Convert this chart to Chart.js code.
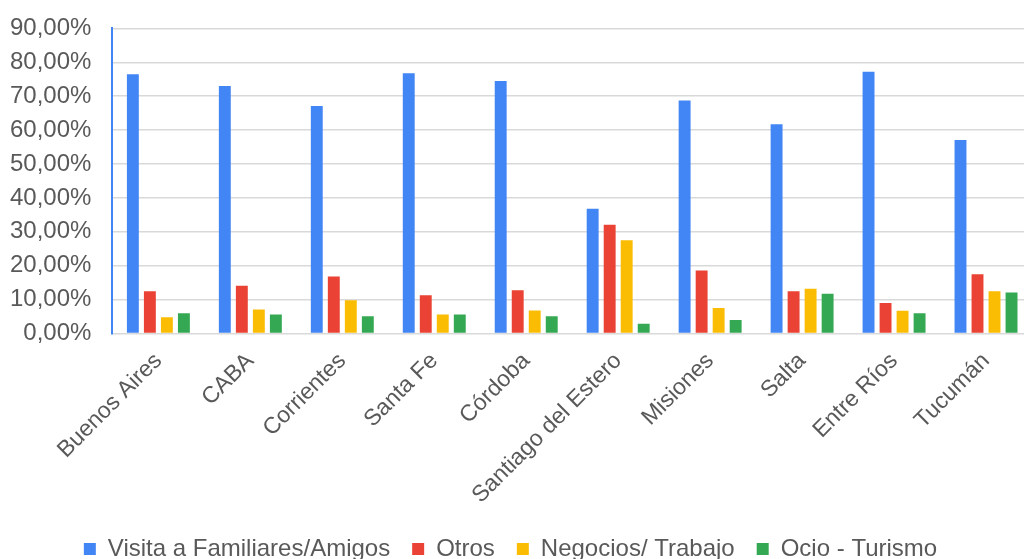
<!DOCTYPE html>
<html>
<head>
<meta charset="utf-8">
<script src="https://cdn.jsdelivr.net/npm/chart.js@4"></script>
<style>
  html, body { margin: 0; padding: 0; background: #fff; overflow: hidden; }
  #wrap { width: 1070px; height: 566px; margin-top: -7px; }
</style>
</head>
<body>
<div id="wrap"><canvas id="bar-chart"></canvas></div>
<script>
const provincias = ["Buenos Aires", "CABA", "Corrientes", "Santa Fe", "Córdoba",
  "Santiago del Estero", "Misiones", "Salta", "Entre Ríos", "Tucumán"];
const visitaFamiliares = [76.5, 73.0, 67.1, 76.8, 74.5, 36.8, 68.7, 61.7, 77.2, 57.1];
const otros            = [12.5, 14.1, 16.8, 11.3, 12.8, 32.1, 18.6, 12.5,  9.0, 17.5];
const negocios         = [ 4.8,  7.1,  9.8,  5.6,  6.8, 27.5,  7.5, 13.2,  6.7, 12.5];
const ocioTurismo      = [ 6.0,  5.6,  5.1,  5.6,  5.1,  2.9,  4.0, 11.7,  6.0, 12.1];
const yTicks = [0, 10, 20, 30, 40, 50, 60, 70, 80, 90];

const gris = "#595959";
Chart.defaults.font.family = "'Liberation Sans', Arial, sans-serif";
Chart.defaults.color = gris;

new Chart(document.getElementById("bar-chart"), {
  type: 'bar',
  data: {
    labels: provincias,
    datasets: [
      { label: "Visita a Familiares/Amigos", data: visitaFamiliares, backgroundColor: "#4285F4" },
      { label: "Otros", data: otros, backgroundColor: "#EA4335" },
      { label: "Negocios/ Trabajo", data: negocios, backgroundColor: "#FBBC04" },
      { label: "Ocio - Turismo", data: ocioTurismo, backgroundColor: "#34A853" }
    ]
  },
  options: {
    responsive: true,
    maintainAspectRatio: false,
    animation: false,
    datasets: { bar: { categoryPercentage: 0.74, barPercentage: 0.7 } },
    layout: { padding: { top: 0, right: 38, left: -11, bottom: -12 } },
    plugins: {
      tooltip: { enabled: false },
      legend: {
        position: 'bottom',
        labels: { boxWidth: 12, boxHeight: 12, padding: 22, font: { size: 24 }, color: gris }
      }
    },
    scales: {
      x: {
        grid: { display: false },
        border: { display: false },
        ticks: { minRotation: 45, maxRotation: 45, font: { size: 23 }, color: gris, padding: 6 }
      },
      y: {
        min: 0, max: 90,
        afterBuildTicks: axis => { axis.ticks = yTicks.map(v => ({ value: v })); },
        grid: { color: "#d9d9d9", lineWidth: 1.5, drawTicks: false },
        border: { display: true, color: "#4285F4", width: 2 },
        ticks: {
          autoSkip: false,
          font: { size: 24 }, color: gris, padding: 21,
          callback: v => v.toFixed(2).replace('.', ',') + '%'
        }
      }
    }
  }
});
</script>
</body>
</html>
